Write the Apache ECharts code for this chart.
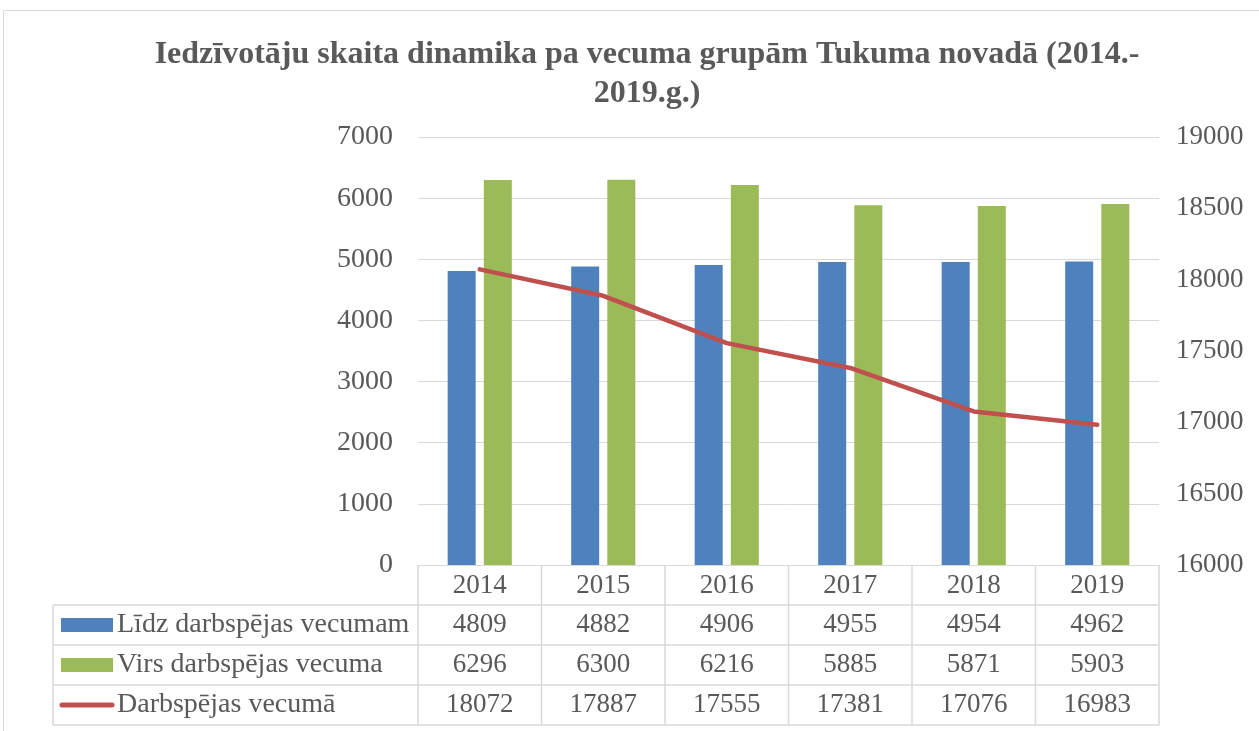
<!DOCTYPE html>
<html>
<head>
<meta charset="utf-8">
<script src="https://cdn.jsdelivr.net/npm/echarts@6/dist/echarts.min.js"></script>
<style>
  html, body { margin: 0; padding: 0; background: #fff; }
  #main { width: 1259px; height: 731px; }
</style>
</head>
<body>
<div id="main"></div>
<script>
const years = ['2014', '2015', '2016', '2017', '2018', '2019'];
const lidz = [4809, 4882, 4906, 4955, 4954, 4962];
const virs = [6296, 6300, 6216, 5885, 5871, 5903];
const darb = [18072, 17887, 17555, 17381, 17076, 16983];
const seriesNames = ['Līdz darbspējas vecumam', 'Virs darbspējas vecuma', 'Darbspējas vecumā'];
const colors = ['#4F81BD', '#9BBB59', '#C0504D'];

const font = 'Liberation Serif';
const txt = '#595959';
const gridCol = '#D9D9D9';

let chart = echarts.init(document.getElementById('main'));
let option = {
    animation: false,
    title: {
        text: 'Iedzīvotāju skaita dinamika pa vecuma grupām Tukuma novadā (2014.-\n2019.g.)',
        left: 642,
        top: 30,
        textAlign: 'center',
        textStyle: { fontFamily: font, fontSize: 32, fontWeight: 'bold', color: txt, lineHeight: 39 }
    },
    grid: { left: 418, right: 100, top: 137, bottom: 166 },
    xAxis: {
        type: 'category',
        data: years,
        axisLine: { lineStyle: { color: gridCol, width: 1 } },
        axisTick: { show: false },
        axisLabel: { fontFamily: font, fontSize: 27, color: txt, margin: 7 }
    },
    yAxis: [
        {
            type: 'value', min: 0, max: 7000, interval: 1000,
            axisLabel: { fontFamily: font, fontSize: 28, color: txt, margin: 25, formatter: v => String(v) },
            splitLine: { lineStyle: { color: gridCol, width: 1 } },
            axisLine: { show: false }, axisTick: { show: false }
        },
        {
            type: 'value', min: 16000, max: 19000, interval: 500,
            axisLabel: { fontFamily: font, fontSize: 27, color: txt, margin: 17, formatter: v => String(v) },
            splitLine: { show: false },
            axisLine: { show: false }, axisTick: { show: false }
        }
    ],
    series: [
        { name: seriesNames[0], type: 'bar', data: lidz, itemStyle: { color: colors[0] }, barWidth: 28, barGap: '29%' },
        { name: seriesNames[1], type: 'bar', data: virs, itemStyle: { color: colors[1] }, barWidth: 28 },
        { name: seriesNames[2], type: 'line', yAxisIndex: 1, data: darb, showSymbol: false, symbol: 'none',
          lineStyle: { color: colors[2], width: 4.5, cap: 'round' }, z: 5 }
    ]
};
chart.setOption(option);

// data table under the plot
const x0 = chart.convertToPixel({ xAxisIndex: 0 }, 0);
const x1 = chart.convertToPixel({ xAxisIndex: 0 }, 1);
const cw = x1 - x0;
const left = x0 - cw / 2;
const right = left + cw * years.length;
const axisY = chart.convertToPixel({ yAxisIndex: 0 }, 0);
const rowH = 40;
const tableLeft = 53;
const rows = [lidz, virs, darb];
let g = [];
// outer frame of the chart
g.push({ type: 'rect', shape: { x: 3.5, y: 10.5, width: 1300, height: 800 }, style: { fill: 'none', stroke: '#D9D9D9', lineWidth: 1 }, silent: true });
const line = (xa, ya, xb, yb) => ({ type: 'line', shape: { x1: xa, y1: ya, x2: xb, y2: yb }, style: { stroke: gridCol, lineWidth: 1.5 }, silent: true });
for (let r = 1; r <= 4; r++) g.push(line(tableLeft, axisY + rowH * r, right, axisY + rowH * r));
for (let c = 0; c <= years.length; c++) g.push(line(left + cw * c, axisY, left + cw * c, axisY + rowH * 4));
g.push(line(tableLeft, axisY + rowH, tableLeft, axisY + rowH * 4));
rows.forEach((vals, r) => {
    const cy = axisY + rowH * (r + 1) + rowH / 2;
    vals.forEach((v, i) => {
        g.push({ type: 'text', x: left + cw * (i + 0.5), y: cy, silent: true,
            style: { text: String(v), fontFamily: font, fontSize: 27, fill: txt, align: 'center', verticalAlign: 'middle' } });
    });
    if (r < 2) {
        g.push({ type: 'rect', shape: { x: 61, y: cy - 7, width: 52, height: 14 }, style: { fill: colors[r] }, silent: true });
    } else {
        g.push({ type: 'line', shape: { x1: 62, y1: cy, x2: 112, y2: cy }, style: { stroke: colors[r], lineWidth: 5, lineCap: 'round' }, silent: true });
    }
    g.push({ type: 'text', x: 117, y: cy, silent: true,
        style: { text: seriesNames[r], fontFamily: font, fontSize: 28, fill: txt, align: 'left', verticalAlign: 'middle' } });
});
chart.setOption({ graphic: g });
</script>
</body>
</html>
